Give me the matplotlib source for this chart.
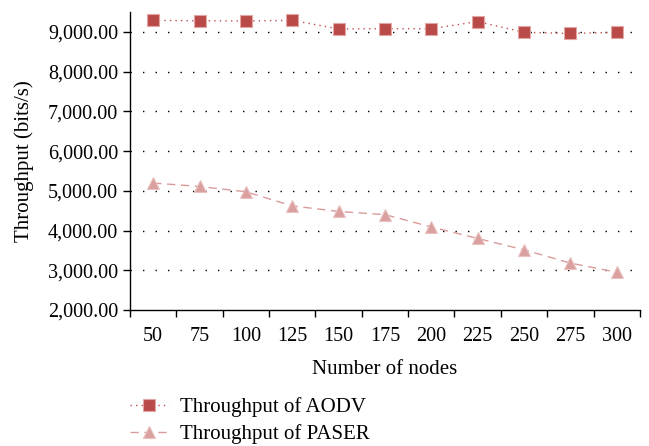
import numpy as np
import matplotlib.pyplot as plt
from matplotlib.ticker import FuncFormatter

plt.rcParams['font.family'] = ['Liberation Serif', 'DejaVu Serif']

nodes = ['50', '75', '100', '125', '150', '175', '200', '225', '250', '275', '300']
aodv = [9290, 9280, 9275, 9290, 9075, 9080, 9080, 9260, 8990, 8960, 8990]
paser = [5195, 5110, 4975, 4620, 4480, 4400, 4090, 3800, 3515, 3180, 2950]

fig = plt.figure(figsize=(6.49, 4.46), dpi=100)
ax = fig.add_axes([0.2003, 0.305, 0.7857, 0.668])

x = np.arange(len(nodes))
ax.plot(x, aodv, linestyle=(0, (1, 3)), color='#c0504d', linewidth=1.0,
        marker='s', markersize=9, markerfacecolor='#b94a48',
        markeredgecolor='#e3a6a5', markeredgewidth=0.8, label='Throughput of AODV')
ax.plot(x, paser, linestyle=(0, (6, 4)), color='#d99c9b', linewidth=1.0,
        marker='^', markersize=9, markerfacecolor='#d9a09f',
        markeredgecolor='#e8c1c0', markeredgewidth=0.8, label='Throughput of PASER')

ax.set_xlim(-0.5, len(nodes) - 0.5)
ax.set_ylim(2000, 9500)
ax.set_yticks(np.arange(2000, 9001, 1000))
ax.yaxis.set_major_formatter(FuncFormatter(lambda v, p: f'{v:,.2f}'))

ax.set_xticks(np.arange(-0.5, len(nodes), 1.0))
ax.set_xticklabels([])
ax.set_xticks(x, minor=True)
ax.set_xticklabels(nodes, minor=True)
ax.tick_params(axis='x', which='minor', length=0, pad=12, labelsize=14.5)
ax.tick_params(axis='x', which='major', length=5, width=1, direction='out')
ax.tick_params(axis='y', length=5, width=1, direction='out', labelsize=14.5)

for y in range(3000, 9001, 1000):
    ax.axhline(y, color='black', linestyle=(0, (1, 8)), linewidth=1.0, zorder=0)

ax.spines['top'].set_visible(False)
ax.spines['right'].set_visible(False)
ax.spines['left'].set_linewidth(1.0)
ax.spines['bottom'].set_linewidth(1.0)

ax.set_xlabel('Number of nodes', fontsize=15, labelpad=10)
ax.set_ylabel('Throughput (bits/s)', fontsize=15, labelpad=10)

fig.legend(loc='upper left', bbox_to_anchor=(0.187, 0.128), frameon=False,
           fontsize=15, handlelength=1.9, handletextpad=0.5, labelspacing=0.35,
           borderaxespad=0)

fig.savefig('out.png', dpi=100)
